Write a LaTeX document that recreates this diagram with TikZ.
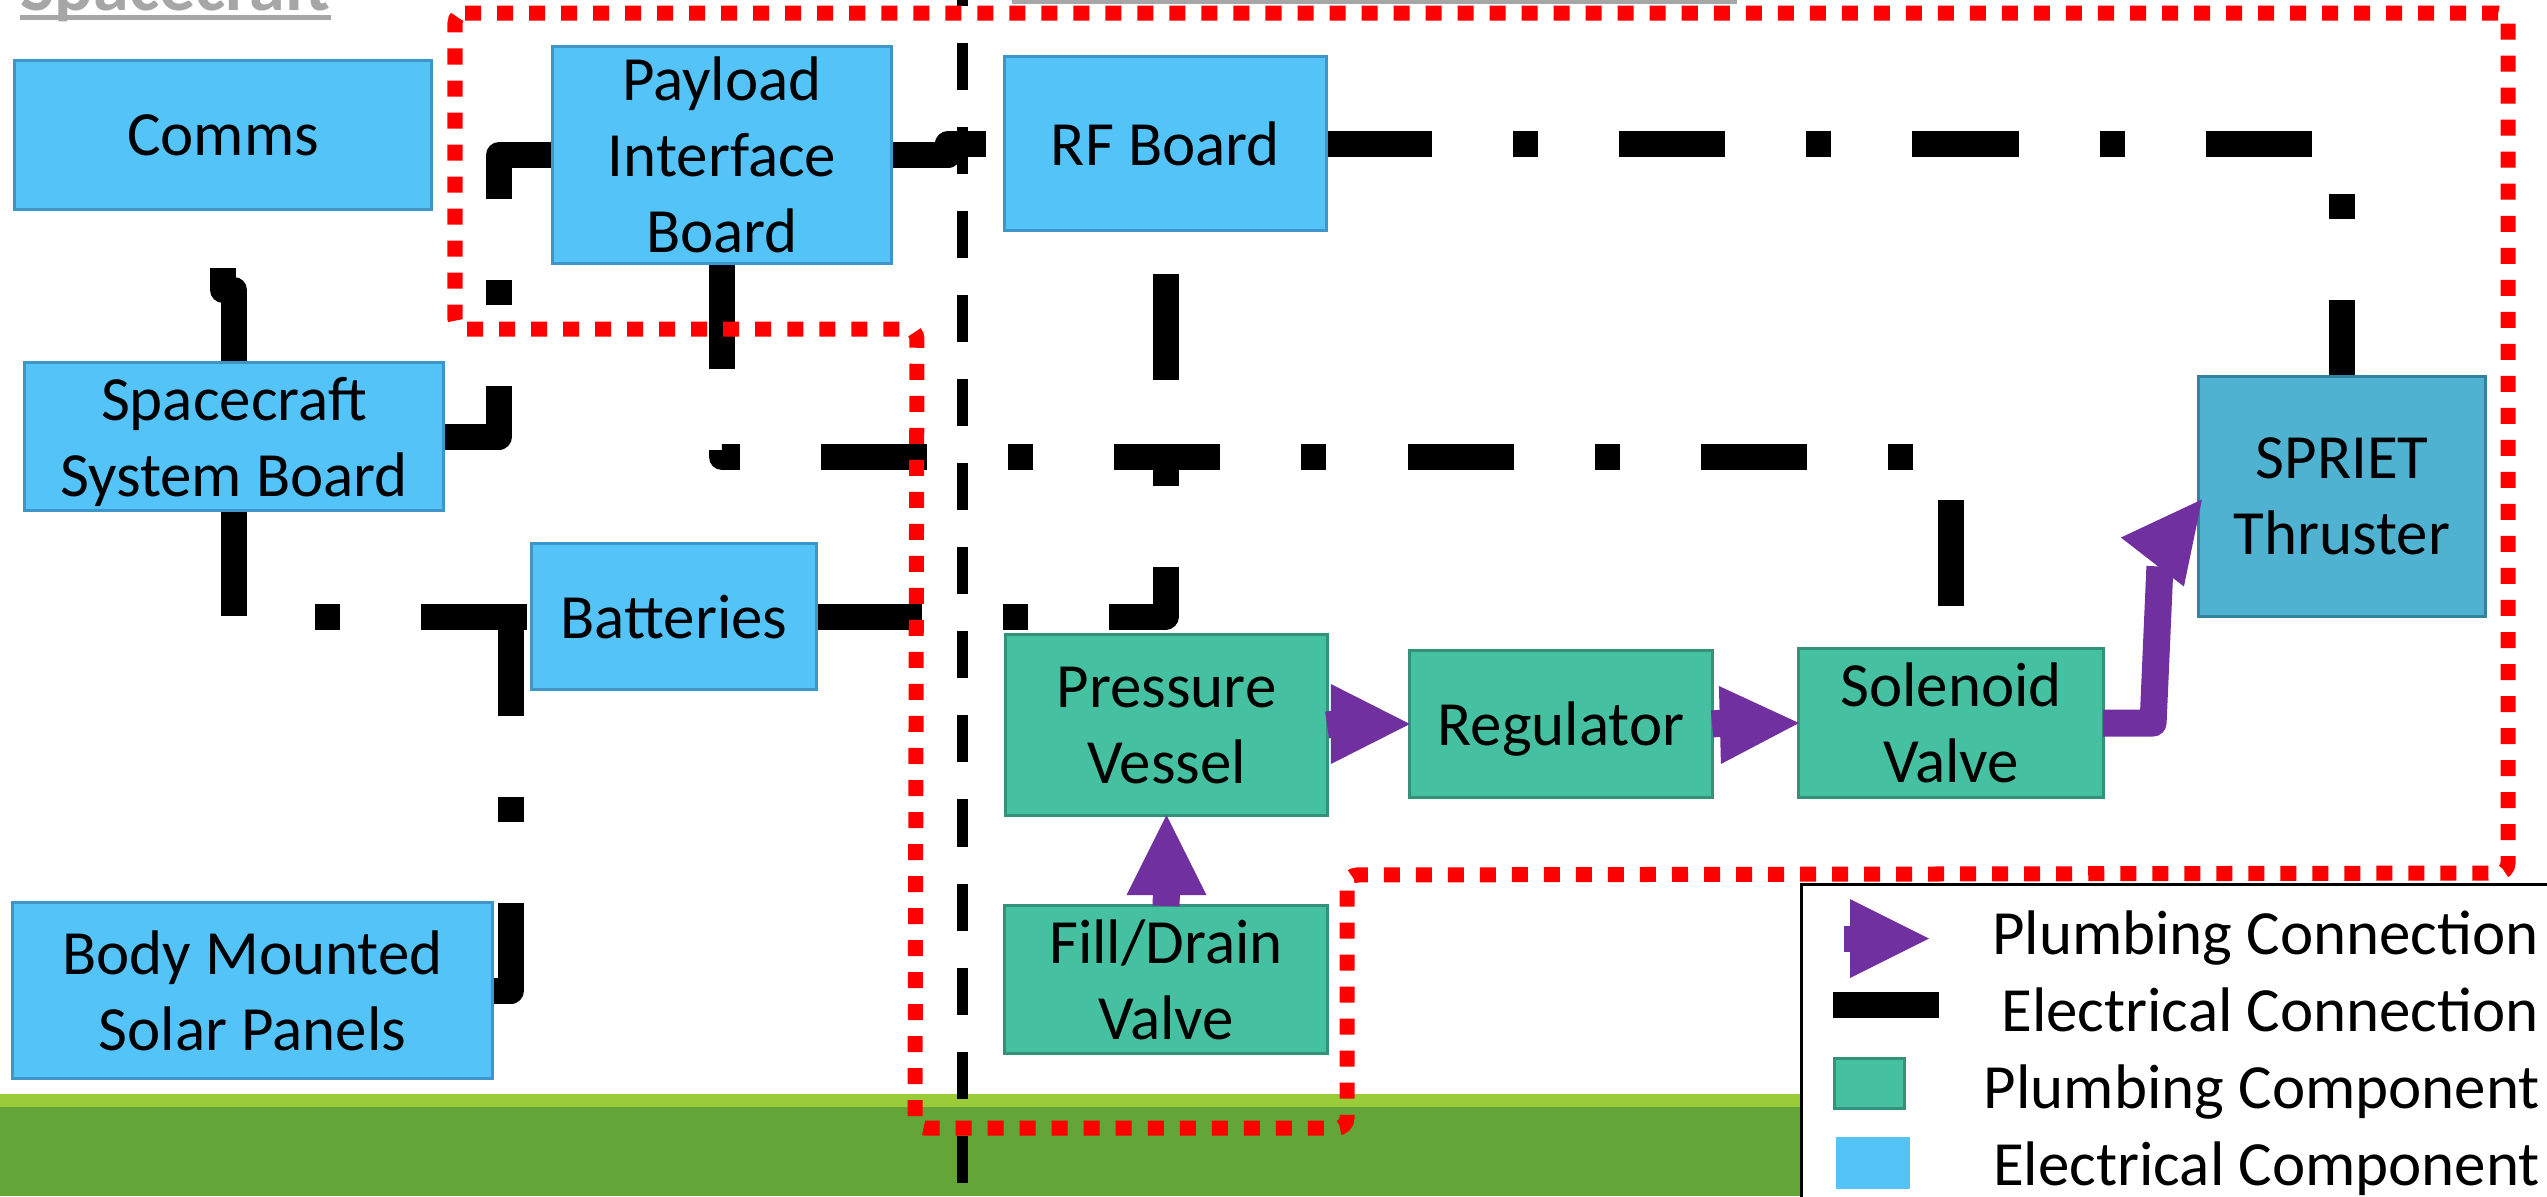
\documentclass[tikz,border=0pt]{standalone}
\usepackage{fontspec}
\setmainfont{Carlito}
\usetikzlibrary{calc}
\definecolor{eblue}{HTML}{53C3F8}
\definecolor{eblueline}{HTML}{3E96C8}
\definecolor{tblue}{HTML}{4FB2D0}
\definecolor{tblueline}{HTML}{31849B}
\definecolor{pgreen}{HTML}{45C1A1}
\definecolor{pgreenline}{HTML}{34917A}
\definecolor{purp}{HTML}{7030A0}
\definecolor{gdark}{HTML}{63A537}
\definecolor{glight}{HTML}{9ACB38}
\definecolor{titlegray}{HTML}{A6A6A6}
\begin{document}
\begin{tikzpicture}[x=0.01cm,y=-0.01cm,
  lbl/.style={font=\fontsize{17.9}{21.6}\selectfont, align=center, inner sep=0pt, outer sep=0pt},
  boxtext/.style={lbl, text depth=0pt},
  ebox/.style={boxtext, draw=eblueline, fill=eblue, line width=0.03cm},
  tbox/.style={boxtext, draw=tblueline, fill=tblue, line width=0.03cm},
  pbox/.style={boxtext, draw=pgreenline, fill=pgreen, line width=0.03cm},
  elec/.style={draw=black, line width=0.26cm, line join=round, dash pattern=on 1.06cm off 0.81cm on 0.25cm off 0.81cm},
  plumb/.style={draw=purp, line width=0.27cm, line join=round},
  bound/.style={draw=red, line width=0.15cm, dash pattern=on 0.16cm off 0.16cm, rounded corners=0.1cm},
  divline/.style={draw=black, line width=0.11cm, dash pattern=on 0.47cm off 0.37cm, dash phase=0.41cm},
]
\useasboundingbox (0,0) rectangle (2547,1196);
\clip (0,0) rectangle (2547,1196);
\fill[white] (0,0) rectangle (2547,1196);

% ground
\fill[glight] (0,1094) rectangle (2547,1107);
\fill[gdark] (0,1107) rectangle (2547,1196);

% title
\node[anchor=base west, inner sep=0pt, font=\bfseries\fontsize{20.5}{24}\selectfont, text=titlegray] (title) at (20,10) {Spacecraft};
\draw[titlegray, line width=0.05cm] ($(title.base west)+(0,7)$) -- ($(title.base east)+(0,7)$);
\coordinate (gl1) at (1012,1);
\coordinate (gl2) at (1737,1);
\draw[titlegray, line width=0.05cm] (gl1) -- (gl2);

% box positions (nodes defined first for connectors)
\path
  node[ebox, minimum width=4.16cm, minimum height=1.48cm] (comms) at (223,135) {}
  node[ebox, minimum width=3.38cm, minimum height=2.16cm] (pib) at (722,155) {}
  node[ebox, minimum width=3.21cm, minimum height=1.73cm] (rf) at (1165.5,143.5) {}
  node[ebox, minimum width=4.18cm, minimum height=1.47cm] (ssb) at (234,436.5) {}
  node[ebox, minimum width=2.84cm, minimum height=1.45cm] (bat) at (674,616.5) {}
  node[ebox, minimum width=4.79cm, minimum height=1.75cm] (solar) at (252.5,990.5) {}
  node[pbox, minimum width=3.21cm, minimum height=1.80cm] (pv) at (1166.5,725) {}
  node[pbox, minimum width=3.02cm, minimum height=1.46cm] (reg) at (1561,724) {}
  node[pbox, minimum width=3.04cm, minimum height=1.48cm] (sol) at (1951,723) {}
  node[tbox, minimum width=2.86cm, minimum height=2.39cm] (spr) at (2342,496.5) {}
  node[pbox, minimum width=3.22cm, minimum height=1.47cm] (fd) at (1166,979.5) {};

% electrical connections
\draw[elec] (pib.east) -- ++(57,0) |- (rf.west);
\draw[elec] (rf.east) -| (spr.north);
\draw[elec] (ssb.north) -- ++(0,-73) -| (comms.south);
\draw[elec] (ssb.east) -- ++(56,0) |- (pib.west);
\draw[elec] (ssb.south) |- (bat.west);
\draw[elec] (solar.east) -- ++(19,0) |- (bat.west);
\draw[elec] (bat.east) -| (rf.south);
\draw[elec] (pib.south) -- ++(0,194) -| (sol.north);

% boxes with text
\node[ebox, minimum width=4.16cm, minimum height=1.48cm] at (comms) {Comms};
\node[ebox, minimum width=3.38cm, minimum height=2.16cm] at (pib) {Payload\\Interface\\Board};
\node[ebox, minimum width=3.21cm, minimum height=1.73cm] at (rf) {RF Board};
\node[ebox, minimum width=4.18cm, minimum height=1.47cm] at (ssb) {Spacecraft\\System Board};
\node[ebox, minimum width=2.84cm, minimum height=1.45cm] at (bat) {Batteries};
\node[ebox, minimum width=4.79cm, minimum height=1.75cm] at (solar) {Body Mounted\\Solar Panels};
\node[pbox, minimum width=3.21cm, minimum height=1.80cm] at (pv) {Pressure\\Vessel};
\node[pbox, minimum width=3.02cm, minimum height=1.46cm] at (reg) {Regulator};
\node[pbox, minimum width=3.04cm, minimum height=1.48cm] at (sol) {Solenoid\\Valve};
\node[tbox, minimum width=2.86cm, minimum height=2.39cm] at (spr) {SPRIET\\Thruster};
\node[pbox, minimum width=3.22cm, minimum height=1.47cm] at (fd) {Fill/Drain\\Valve};

% plumbing connections
\draw[plumb] (pv.east) -- ($(reg.west)+(-76,0)$);
\fill[purp] (reg.west) -- ++(-79,-40) -- ++(0,80) -- cycle;
\draw[plumb] (reg.east) -- ($(sol.west)+(-76,0)$);
\fill[purp] (sol.west) -- ++(-80,-37) -- ++(2,78) -- cycle;
\coordinate (sprtip) at ($(spr.west)+(3,3)$);
\draw[plumb] (sol.east) -- ++(50,0) -- ($(sprtip)+(-42,67)$);
\fill[purp] (sprtip) -- ++(-81,38) -- ++(63,49) -- cycle;
\draw[plumb] (fd.north) -- ($(pv.south)+(0,76)$);
\fill[purp] (pv.south) -- ++(-40,80) -- ++(80,0) -- cycle;

% divider line
\coordinate (divtop) at (962,0);
\coordinate (divbot) at (962,1196);
\draw[divline] (divtop) -- (divbot);

% boundary
\draw[bound] (455,13) -- (2508,13) -- (2508,873) -- (1347,875) -- (1347,1128) -- (915,1128) -- (917,329) -- (455,329) -- cycle;

% legend
\node[draw=black, fill=white, line width=0.03cm, minimum width=8cm, minimum height=4cm, anchor=north west, inner sep=0pt] (legend) at (1800,883) {};
\fill[purp] (1844,926) rectangle (1851,952);
\fill[purp] (1850,899) -- (1929,938.5) -- (1850,978) -- cycle;
\fill[black] (1833,992) rectangle (1939,1018);
\draw[pgreenline, fill=pgreen, line width=0.03cm] (1834,1058) rectangle (1904,1108);
\fill[eblue] (1836,1137) rectangle (1910,1189);
\node[lbl, anchor=base east] (lg1) at (2539,954) {Plumbing Connection};
\node[lbl, anchor=base east] (lg2) at (2539,1031) {Electrical Connection};
\node[lbl, anchor=base east] (lg3) at (2540,1108) {Plumbing Component};
\node[lbl, anchor=base east] (lg4) at (2540,1185) {Electrical Component};
\end{tikzpicture}
\end{document}
